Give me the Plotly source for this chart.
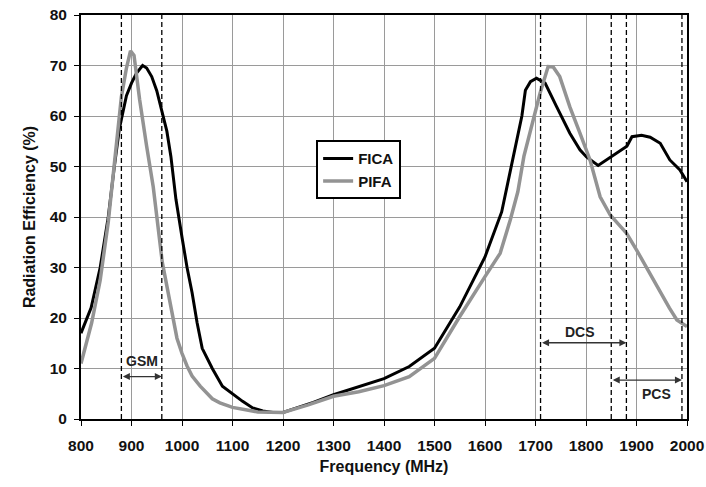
import plotly.graph_objects as go

# FICA antenna (black curve)
fica_freq = [800, 820, 838, 854, 866, 876, 890, 900, 910, 922, 930, 940, 950, 960, 970,
             978, 988, 1000, 1010, 1020, 1030, 1040, 1060, 1080, 1100, 1120, 1140, 1160,
             1180, 1200, 1230, 1260, 1300, 1350, 1400, 1450, 1500, 1550, 1600, 1633, 1650,
             1660, 1673, 1680, 1690, 1702, 1719, 1742, 1768, 1788, 1801, 1824, 1851, 1881,
             1891, 1910, 1927, 1947, 1966, 1986, 2000]
fica_eff = [17, 22, 30, 40, 50, 57.5, 64, 66.5, 68.5, 70, 69.5, 67.8, 65, 61, 57,
            52, 43.5, 36, 30, 25, 19, 14, 10, 6.5, 5, 3.5, 2.2, 1.6,
            1.3, 1.3, 2.3, 3.3, 4.8, 6.4, 8, 10.4, 14, 22.2, 32.1, 41, 49,
            54, 60, 65.1, 66.8, 67.5, 66.5, 61.8, 56.6, 53.3, 51.9, 50.2, 52, 54,
            55.9, 56.2, 55.8, 54.6, 51.3, 49.3, 47]

# PIFA antenna (grey curve)
pifa_freq = [800, 821, 838, 854, 864, 872, 880, 890, 898, 905, 916, 930, 943, 961, 975,
             990, 1000, 1010, 1020, 1036, 1060, 1075, 1100, 1120, 1150, 1200, 1250, 1300,
             1350, 1400, 1450, 1500, 1550, 1600, 1630, 1650, 1665, 1677, 1689, 1709, 1725,
             1735, 1748, 1768, 1788, 1808, 1828, 1848, 1865, 1880, 1900, 1925, 1947, 1965,
             1980, 2000]
pifa_eff = [11, 19, 27.5, 39, 48.6, 56, 63.8, 69.5, 72.9, 72, 63.3, 54, 46, 31, 24,
            16, 13, 10.5, 8.5, 6.5, 4, 3.2, 2.3, 1.9, 1.4, 1.3, 2.8, 4.5,
            5.4, 6.6, 8.4, 12, 20.3, 28.2, 32.8, 39.4, 45, 52, 56.6, 64.5, 69.8,
            69.7, 67.8, 61.8, 56.6, 51.3, 44, 40.4, 38.5, 36.8, 33.5, 29, 25, 22,
            19.6, 18.3]

# frequency bands: name, start, end, arrow level, label position
band_names = ["GSM", "DCS", "PCS"]
band_start = [880, 1710, 1850]
band_end = [960, 1880, 1990]
band_arrow_y = [8.4, 15.1, 7.7]
band_label_x = [920, 1788, 1940]
band_label_y = [11.4, 17.2, 5.0]

font = "Arial, Liberation Sans, sans-serif"

fig = go.Figure()
fig.add_trace(go.Scatter(x=fica_freq, y=fica_eff, mode="lines", name="FICA",
                         legendgroup="a", line=dict(color="black", width=3)))
fig.add_trace(go.Scatter(x=pifa_freq, y=pifa_eff, mode="lines", name="PIFA",
                         legendgroup="b", line=dict(color="#939393", width=3.5)))

for s, e in zip(band_start, band_end):
    for f in (s, e):
        fig.add_vline(x=f, line=dict(color="black", width=1.3, dash="5px,3px"))

for name, s, e, ay, lx, ly in zip(band_names, band_start, band_end,
                                  band_arrow_y, band_label_x, band_label_y):
    fig.add_annotation(x=e, y=ay, ax=s, ay=ay, axref="x", ayref="y", text="",
                       showarrow=True, arrowside="end+start", arrowhead=2,
                       arrowsize=1, arrowwidth=1.4, arrowcolor="#333333")
    fig.add_annotation(x=lx, y=ly, text=name, showarrow=False,
                       font=dict(family=font, size=14, color="#222222", weight="bold"))

fig.update_xaxes(range=[800, 2000], dtick=100, showgrid=True, gridcolor="#9a9a9a",
                 gridwidth=1, showline=True, linecolor="black", linewidth=2, mirror=True,
                 ticks="outside", ticklen=5, tickcolor="black", zeroline=False,
                 automargin=False, ticklabeloverflow="allow", ticklabelstandoff=6,
                 tickfont=dict(family=font, size=15.5, color="#111111", weight="bold"),
                 title=dict(text="Frequency (MHz)", standoff=8,
                            font=dict(family=font, size=16, color="#111111", weight="bold")))
fig.update_yaxes(range=[0, 80], dtick=10, showgrid=True, gridcolor="#9a9a9a",
                 gridwidth=1, showline=True, linecolor="black", linewidth=2, mirror=True,
                 ticks="outside", ticklen=5, tickcolor="black", zeroline=False,
                 automargin=False, ticklabeloverflow="allow", ticklabelstandoff=4,
                 tickfont=dict(family=font, size=15.5, color="#111111", weight="bold"),
                 title=dict(text="Radiation Efficiency (%)", standoff=10,
                            font=dict(family=font, size=16, color="#111111", weight="bold")))

fig.update_layout(
    width=706,
    height=487,
    plot_bgcolor="white",
    paper_bgcolor="white",
    margin=dict(l=81, r=19, t=15, b=68),
    legend=dict(x=0.388, y=0.69, xanchor="left", yanchor="top",
                bgcolor="white", bordercolor="black", borderwidth=2,
                tracegroupgap=0, itemwidth=30,
                font=dict(family=font, size=15, color="#111111", weight="bold")),
)

# drop the default 8px page margin so the figure fills the window exactly
fig.write_html("out.html", config={"displayModeBar": False},
               post_script="document.body.style.margin = '0';")
